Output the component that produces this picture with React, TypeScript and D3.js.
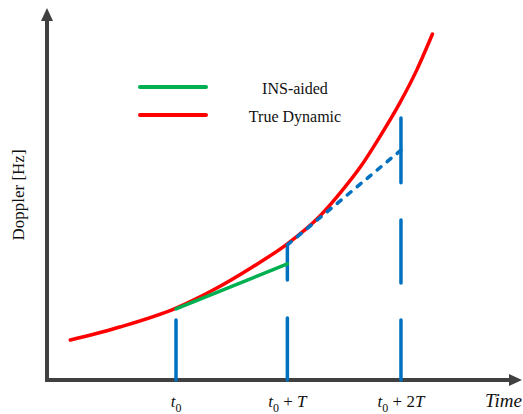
import * as d3 from "d3";
import React from "react";

// time in units of T (t0 = 1), doppler in arbitrary units
const trueDynamic: [number, number][] = [
  [0.06, 10.75], [0.5, 14.25], [1.0, 19.35], [1.33, 24.2], [1.68, 30.4],
  [1.99, 36.6], [2.28, 44.1], [2.46, 50.3], [2.64, 57.3], [2.81, 65.3],
  [2.99, 74.5], [3.14, 83.3], [3.28, 93.0],
];
const insAided: [number, number][] = [[1.0, 19.1], [1.99, 31.2]];
const predicted: [number, number][] = [[1.99, 36.3], [3.0, 61.8]];

// vertical blue bars: [time, from, to]
const bars: [number, number, number][] = [
  [1, 0, 16.1],
  [1.99, 0, 16.7],
  [1.99, 26.9, 36.3],
  [3, 0, 16.1],
  [3, 26.1, 43.0],
  [3, 53.0, 70.4],
];

const ticks = [
  { t: 1, rest: "" },
  { t: 1.99, rest: "T" },
  { t: 3, rest: "2T" },
];

const legend = [
  { name: "INS-aided", color: "#00B050" },
  { name: "True Dynamic", color: "#FF0000" },
];

const W = 523;
const H = 414;
const serif = "'Liberation Serif', 'Times New Roman', serif";

export default function App() {
  const x = d3.scaleLinear().domain([-0.147, 4.076]).range([47, 522]);
  const y = d3.scaleLinear().domain([0, 100]).range([380, 8]);

  const smooth = d3
    .line<[number, number]>()
    .x((d) => x(d[0]))
    .y((d) => y(d[1]))
    .curve(d3.curveMonotoneX);
  const straight = d3
    .line<[number, number]>()
    .x((d) => x(d[0]))
    .y((d) => y(d[1]));

  const axisColor = "#404040";
  const blue = "#0070C0";
  const x0 = x(-0.147);

  return (
    <svg
      width={W}
      height={H}
      style={{ position: "absolute", left: 0, top: 0, background: "#fff" }}
    >
      {/* axes */}
      <line x1={x0} y1={y(0)} x2={x0} y2={20} stroke={axisColor} strokeWidth={4} />
      <path d={`M${x0},8 L${x0 - 6},21 L${x0 + 6},21 Z`} fill={axisColor} />
      <line x1={45} y1={y(0)} x2={510} y2={y(0)} stroke={axisColor} strokeWidth={4} />
      <path d={`M522,${y(0)} L509,${y(0) - 6} L509,${y(0) + 6} Z`} fill={axisColor} />

      {/* blue bars */}
      {bars.map(([t, a, b], i) => (
        <line
          key={i}
          x1={x(t)}
          x2={x(t)}
          y1={y(a)}
          y2={y(b)}
          stroke={blue}
          strokeWidth={3.5}
          strokeLinecap="round"
        />
      ))}

      <path d={smooth(trueDynamic) ?? ""} fill="none" stroke="#FF0000" strokeWidth={3.5} strokeLinecap="round" />
      <path d={straight(insAided) ?? ""} fill="none" stroke="#00B050" strokeWidth={3.5} strokeLinecap="round" />
      <path
        d={straight(predicted) ?? ""}
        fill="none"
        stroke={blue}
        strokeWidth={3.5}
        strokeDasharray="5 8"
        strokeLinecap="round"
      />

      {/* legend */}
      {legend.map((l, i) => (
        <g key={l.name} transform={`translate(0,${87 + i * 28})`}>
          <line x1={140} x2={206} y1={0} y2={0} stroke={l.color} strokeWidth={4} strokeLinecap="round" />
          <text x={295} y={7} textAnchor="middle" fontFamily={serif} fontSize={16} fill="#111">
            {l.name}
          </text>
        </g>
      ))}

      {/* y label */}
      <text
        transform="translate(24,195) rotate(-90)"
        textAnchor="middle"
        fontFamily={serif}
        fontSize={17}
        fill="#111"
      >
        Doppler [Hz]
      </text>

      {/* x tick labels */}
      {ticks.map((tk) => (
        <text
          key={tk.t}
          x={x(tk.t)}
          y={407}
          textAnchor="middle"
          fontFamily={serif}
          fontSize={17}
          fill="#111"
        >
          <tspan fontStyle="italic">t</tspan>
          <tspan fontSize={12} dy={5}>0</tspan>
          {tk.rest && (
            <>
              <tspan dy={-5}>{" + "}</tspan>
              {tk.rest.startsWith("2") && <tspan>2</tspan>}
              <tspan fontStyle="italic">T</tspan>
            </>
          )}
        </text>
      ))}
      <text x={485} y={407} fontFamily={serif} fontStyle="italic" fontSize={19} fill="#111">
        Time
      </text>
    </svg>
  );
}
